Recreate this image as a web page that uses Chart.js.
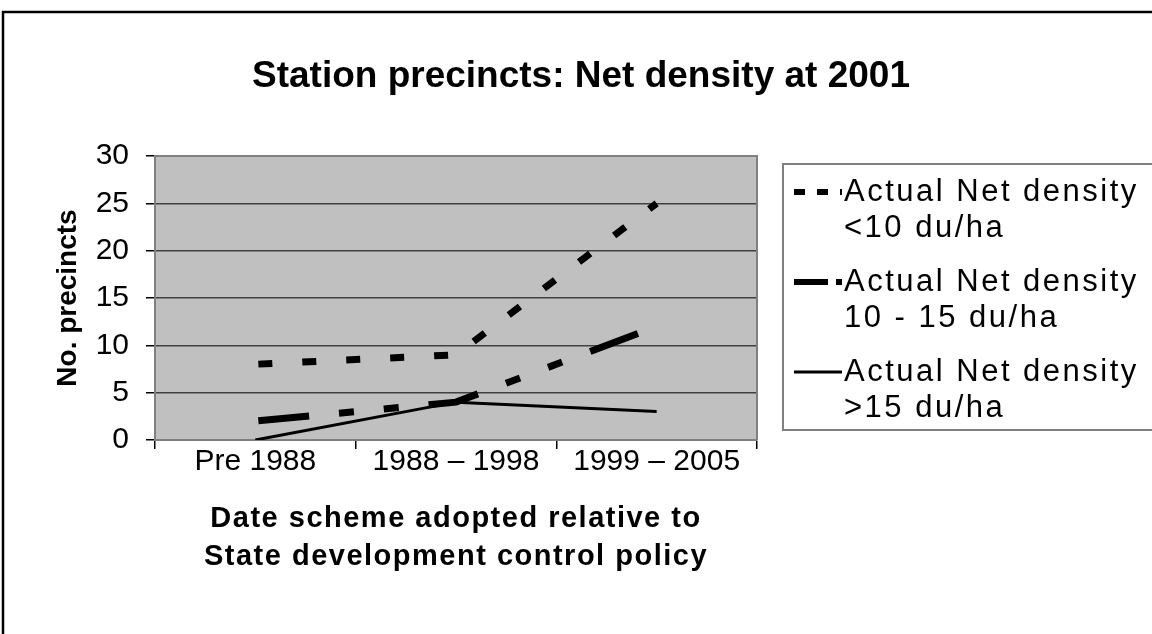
<!DOCTYPE html>
<html>
<head>
<meta charset="utf-8">
<script src="https://cdn.jsdelivr.net/npm/chart.js@4/dist/chart.umd.min.js"></script>
<style>
  html, body { margin: 0; padding: 0; background: #fff; }
</style>
</head>
<body>
<canvas id="myChart" width="1152" height="634"></canvas>
<script>
const categories = ["Pre 1988", "1988 – 1998", "1999 – 2005"];
const below10 = [8, 9, 25];
const from10to15 = [2, 4, 12];
const above15 = [0, 4, 3];
const seriesNames = [
  ["Actual Net density", "<10 du/ha"],
  ["Actual Net density", "10 - 15 du/ha"],
  ["Actual Net density", ">15 du/ha"]
];
const yTicks = [0, 5, 10, 15, 20, 25, 30];

const FONT = "Arial, 'Liberation Sans', sans-serif";
Chart.defaults.font.family = FONT;
Chart.defaults.color = "#000";

// grey plot background plus the top/right edges of the plot box
const plotBox = {
  id: "plotBox",
  afterLayout(chart) {
    // the x axis title is spaced out a little in the original
    const x = chart.scales.x;
    if (!x._spaced) {
      const orig = x.drawTitle.bind(x);
      x.drawTitle = function () {
        const prev = this.ctx.letterSpacing;
        this.ctx.letterSpacing = "1.5px";
        orig();
        this.ctx.letterSpacing = prev;
      };
      x._spaced = true;
    }
  },
  beforeDraw(chart) {
    const {ctx, chartArea: a} = chart;
    ctx.save();
    ctx.fillStyle = "#c0c0c0";
    ctx.fillRect(a.left, a.top, a.right - a.left, a.bottom - a.top);
    ctx.restore();
  },
  afterDraw(chart) {
    const {ctx, chartArea: a} = chart;
    ctx.save();
    ctx.strokeStyle = "#808080";
    ctx.lineWidth = 2;
    ctx.beginPath();
    ctx.moveTo(a.left, a.top);
    ctx.lineTo(a.right, a.top);
    ctx.lineTo(a.right, a.bottom);
    ctx.stroke();
    // outer frame
    ctx.strokeStyle = "#000";
    ctx.lineWidth = 2.5;
    ctx.strokeRect(3, 12, 1200, 700);
    ctx.restore();
  }
};

// legend with two-line labels, drawn in a box right of the plot
const boxLegend = {
  id: "boxLegend",
  afterDraw(chart) {
    const ctx = chart.ctx;
    const left = 783, top = 164;
    ctx.save();
    ctx.strokeStyle = "#808080";
    ctx.lineWidth = 2;
    ctx.strokeRect(left, top, 420, 266);
    ctx.font = "31px " + FONT;
    ctx.letterSpacing = "2.5px";
    ctx.fillStyle = "#000";
    ctx.textBaseline = "middle";
    chart.data.datasets.forEach((ds, i) => {
      const y = top + 28 + i * 90;
      ctx.beginPath();
      ctx.setLineDash(ds.legendDash);
      ctx.lineWidth = ds.legendWidth;
      ctx.strokeStyle = ds.borderColor;
      ctx.moveTo(794, y);
      ctx.lineTo(842, y);
      ctx.stroke();
      ctx.setLineDash([]);
      seriesNames[i].forEach((line, j) => ctx.fillText(line, 844, y + j * 36));
    });
    ctx.restore();
  }
};

new Chart("myChart", {
  type: "line",
  data: {
    labels: categories,
    datasets: [
      { label: seriesNames[0].join(" "), data: below10, borderColor: "#000", borderWidth: 7,
        borderDash: [14, 30], borderDashOffset: -3, legendDash: [11, 12], legendWidth: 6 },
      { label: seriesNames[1].join(" "), data: from10to15, borderColor: "#000", borderWidth: 7,
        borderDash: [51, 30, 15, 30, 15, 30], borderDashOffset: -3, legendDash: [34, 8, 6, 8], legendWidth: 6 },
      { label: seriesNames[2].join(" "), data: above15, borderColor: "#000", borderWidth: 3,
        borderDash: [], legendDash: [], legendWidth: 3 }
    ]
  },
  options: {
    responsive: false,
    animation: false,
    devicePixelRatio: 1,
    layout: { padding: { left: 10, right: 0, top: 0, bottom: 0 } },
    elements: { point: { radius: 0 }, line: { tension: 0, fill: false, borderCapStyle: "butt" } },
    plugins: {
      legend: { display: false },
      tooltip: { enabled: false },
      title: {
        display: true,
        text: "Station precincts: Net density at 2001",
        color: "#000",
        font: { size: 37, weight: "bold", lineHeight: 1.2 },
        padding: { top: 55, bottom: 56.6 }
      }
    },
    scales: {
      x: {
        offset: true,
        grid: { offset: true, drawOnChartArea: false, tickLength: 9, tickColor: "#000", lineWidth: 1.5 },
        border: { color: "#808080", width: 2 },
        ticks: { color: "#000", font: { size: 30, lineHeight: 1 }, padding: -2, maxRotation: 0, autoSkip: false },
        title: {
          display: true,
          text: ["Date scheme adopted relative to", "State development control policy"],
          color: "#000",
          font: { size: 29, weight: "bold", lineHeight: 1.31 },
          padding: { top: 0, bottom: 58 }
        },
        afterFit(scale) { scale.height = 194; }
      },
      y: {
        min: 0,
        max: 30,
        afterBuildTicks(scale) { scale.ticks = yTicks.map(v => ({ value: v })); },
        ticks: { color: "#000", font: { size: 30 }, padding: 17 },
        grid: { color: "#404040", lineWidth: 1.5, tickLength: 9, tickColor: "#000" },
        border: { color: "#808080", width: 2 },
        title: {
          display: true,
          text: "No. precincts",
          color: "#000",
          font: { size: 28, weight: "bold", lineHeight: 1.2 },
          padding: { top: 41, bottom: 0 }
        },
        afterFit(scale) { scale.width = 145; }
      },
      // empty axis that keeps the right side free for the legend box
      yRight: {
        position: "right",
        grid: { display: false, drawTicks: false },
        border: { display: false },
        ticks: { display: false },
        afterFit(scale) { scale.width = 395; }
      }
    }
  },
  plugins: [plotBox, boxLegend]
});
</script>
</body>
</html>
